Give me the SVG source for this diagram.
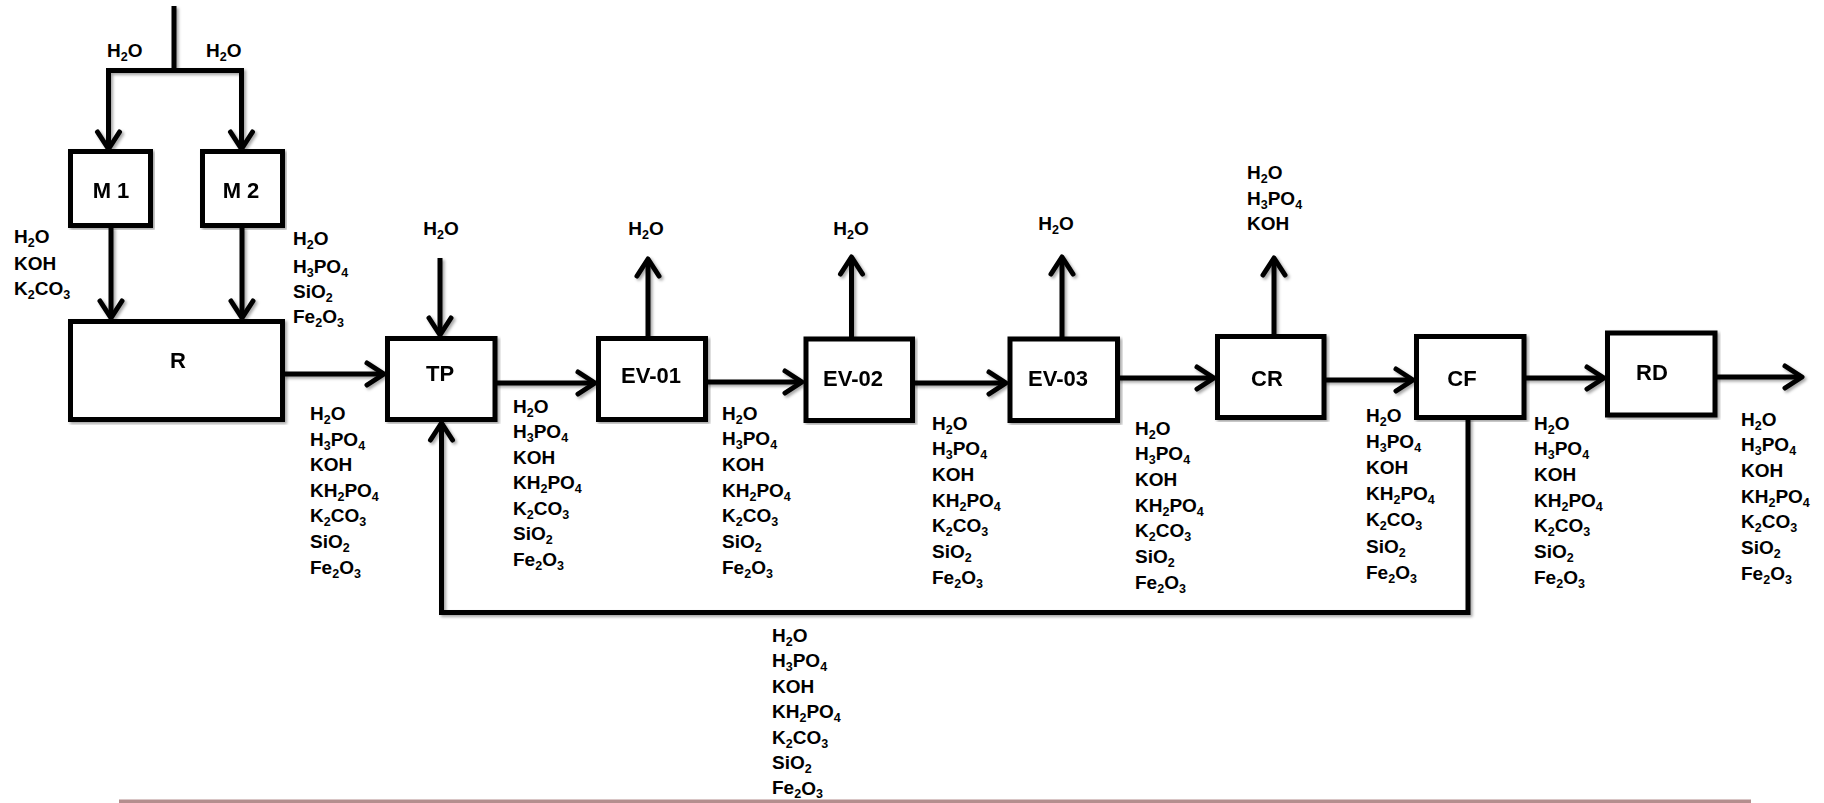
<svg xmlns="http://www.w3.org/2000/svg" width="1824" height="803" viewBox="0 0 1824 803">
<style>
.box{fill:#fff;stroke:#000;stroke-width:5}
.ln{fill:none;stroke:#000;stroke-width:5}
.arr{marker-end:url(#ah)}
.lbl{font-family:"Liberation Sans",Arial,sans-serif;font-weight:bold;font-size:19px;fill:#000}
.nm{font-family:"Liberation Sans",Arial,sans-serif;font-weight:bold;font-size:22px;fill:#000;text-anchor:middle}
.s{font-size:12.5px}
.mid{text-anchor:middle}
</style>
<defs>
<filter id="sh" x="-5%" y="-5%" width="110%" height="110%">
<feDropShadow dx="2" dy="2" stdDeviation="1.5" flood-color="#000" flood-opacity="0.35"/>
</filter>
<marker id="ah" markerUnits="userSpaceOnUse" viewBox="-22 -16 26 32" refX="0" refY="0" markerWidth="26" markerHeight="32" orient="auto">
<path d="M -17 -11 L 0 0 L -17 11" fill="none" stroke="#000" stroke-width="5" stroke-linejoin="round" stroke-linecap="round"/>
</marker>
</defs>
<rect width="1824" height="803" fill="#fff"/>
<rect id="baseline-rule" x="119" y="799.5" width="1632" height="3.5" fill="#b48e8e"/>

<g id="connectors" filter="url(#sh)">
<path class="ln" d="M174 6 V70.5 M106 70.5 H243.5"/>
<path class="ln arr" d="M108.5 68 V149"/>
<path class="ln arr" d="M241.5 68 V149"/>
<path class="ln arr" d="M111 227 V318"/>
<path class="ln arr" d="M242 227 V318"/>
<path class="ln arr" d="M283 374 H384"/>
<path class="ln arr" d="M440 258 V335"/>
<path class="ln arr" d="M1468 418 V612.5 H441.5 V423"/>
<path class="ln arr" d="M495 383 H595"/>
<path class="ln arr" d="M648 337 V259"/>
<path class="ln arr" d="M705.5 382 H802"/>
<path class="ln arr" d="M851.5 337 V257"/>
<path class="ln arr" d="M912.5 383 H1006"/>
<path class="ln arr" d="M1062 337 V257"/>
<path class="ln arr" d="M1117.5 378 H1214"/>
<path class="ln arr" d="M1274 335 V258"/>
<path class="ln arr" d="M1324 380 H1413"/>
<path class="ln arr" d="M1524 378 H1604"/>
<path class="ln arr" d="M1715 377 H1802"/>
</g>

<g id="M1" filter="url(#sh)"><rect class="box" x="70.5" y="151.5" width="80" height="74"/><text class="nm" x="111" y="198">M 1</text></g>
<g id="M2" filter="url(#sh)"><rect class="box" x="202.5" y="151.5" width="80" height="74"/><text class="nm" x="241" y="198">M 2</text></g>
<g id="R" filter="url(#sh)"><rect class="box" x="70.5" y="321.5" width="212" height="98"/><text class="nm" x="178" y="368">R</text></g>
<g id="TP" filter="url(#sh)"><rect class="box" x="387.5" y="338.5" width="107.5" height="81"/><text class="nm" x="440" y="381">TP</text></g>
<g id="EV-01" filter="url(#sh)"><rect class="box" x="598.5" y="338.5" width="107" height="81"/><text class="nm" x="651" y="383">EV-01</text></g>
<g id="EV-02" filter="url(#sh)"><rect class="box" x="806" y="339" width="106.5" height="81.5"/><text class="nm" x="853" y="386">EV-02</text></g>
<g id="EV-03" filter="url(#sh)"><rect class="box" x="1010" y="339" width="107.5" height="81.5"/><text class="nm" x="1058" y="386">EV-03</text></g>
<g id="CR" filter="url(#sh)"><rect class="box" x="1217.5" y="336.5" width="106.5" height="81"/><text class="nm" x="1267" y="386">CR</text></g>
<g id="CF" filter="url(#sh)"><rect class="box" x="1416.5" y="336.5" width="107.5" height="81"/><text class="nm" x="1462" y="386">CF</text></g>
<g id="RD" filter="url(#sh)"><rect class="box" x="1607.5" y="333" width="107.5" height="82"/><text class="nm" x="1652" y="380">RD</text></g>

<g id="labels" class="lbl">
<text x="107" y="57">H<tspan class="s" dy="4">2</tspan><tspan dy="-4">O</tspan></text>
<text x="206" y="57">H<tspan class="s" dy="4">2</tspan><tspan dy="-4">O</tspan></text>

<text x="14" y="243">H<tspan class="s" dy="4">2</tspan><tspan dy="-4">O</tspan></text>
<text x="14" y="270">KOH</text>
<text x="14" y="295">K<tspan class="s" dy="4">2</tspan><tspan dy="-4">CO</tspan><tspan class="s" dy="4">3</tspan></text>

<text x="293" y="245">H<tspan class="s" dy="4">2</tspan><tspan dy="-4">O</tspan></text>
<text x="293" y="273">H<tspan class="s" dy="4">3</tspan><tspan dy="-4">PO</tspan><tspan class="s" dy="4">4</tspan></text>
<text x="293" y="298">SiO<tspan class="s" dy="4">2</tspan></text>
<text x="293" y="323">Fe<tspan class="s" dy="4">2</tspan><tspan dy="-4">O</tspan><tspan class="s" dy="4">3</tspan></text>

<text class="mid" x="441" y="235">H<tspan class="s" dy="4">2</tspan><tspan dy="-4">O</tspan></text>
<text class="mid" x="646" y="235">H<tspan class="s" dy="4">2</tspan><tspan dy="-4">O</tspan></text>
<text class="mid" x="851" y="235">H<tspan class="s" dy="4">2</tspan><tspan dy="-4">O</tspan></text>
<text class="mid" x="1056" y="230">H<tspan class="s" dy="4">2</tspan><tspan dy="-4">O</tspan></text>

<text x="1247" y="179">H<tspan class="s" dy="4">2</tspan><tspan dy="-4">O</tspan></text>
<text x="1247" y="205">H<tspan class="s" dy="4">3</tspan><tspan dy="-4">PO</tspan><tspan class="s" dy="4">4</tspan></text>
<text x="1247" y="230">KOH</text>

<text x="310" y="420">H<tspan class="s" dy="4">2</tspan><tspan dy="-4">O</tspan></text>
<text x="310" y="445.6">H<tspan class="s" dy="4">3</tspan><tspan dy="-4">PO</tspan><tspan class="s" dy="4">4</tspan></text>
<text x="310" y="471.2">KOH</text>
<text x="310" y="496.8">KH<tspan class="s" dy="4">2</tspan><tspan dy="-4">PO</tspan><tspan class="s" dy="4">4</tspan></text>
<text x="310" y="522.4">K<tspan class="s" dy="4">2</tspan><tspan dy="-4">CO</tspan><tspan class="s" dy="4">3</tspan></text>
<text x="310" y="548">SiO<tspan class="s" dy="4">2</tspan></text>
<text x="310" y="573.6">Fe<tspan class="s" dy="4">2</tspan><tspan dy="-4">O</tspan><tspan class="s" dy="4">3</tspan></text>

<text x="513" y="412.5">H<tspan class="s" dy="4">2</tspan><tspan dy="-4">O</tspan></text>
<text x="513" y="438">H<tspan class="s" dy="4">3</tspan><tspan dy="-4">PO</tspan><tspan class="s" dy="4">4</tspan></text>
<text x="513" y="463.5">KOH</text>
<text x="513" y="489">KH<tspan class="s" dy="4">2</tspan><tspan dy="-4">PO</tspan><tspan class="s" dy="4">4</tspan></text>
<text x="513" y="514.5">K<tspan class="s" dy="4">2</tspan><tspan dy="-4">CO</tspan><tspan class="s" dy="4">3</tspan></text>
<text x="513" y="540">SiO<tspan class="s" dy="4">2</tspan></text>
<text x="513" y="565.5">Fe<tspan class="s" dy="4">2</tspan><tspan dy="-4">O</tspan><tspan class="s" dy="4">3</tspan></text>

<text x="722" y="419.5">H<tspan class="s" dy="4">2</tspan><tspan dy="-4">O</tspan></text>
<text x="722" y="445.2">H<tspan class="s" dy="4">3</tspan><tspan dy="-4">PO</tspan><tspan class="s" dy="4">4</tspan></text>
<text x="722" y="470.9">KOH</text>
<text x="722" y="496.6">KH<tspan class="s" dy="4">2</tspan><tspan dy="-4">PO</tspan><tspan class="s" dy="4">4</tspan></text>
<text x="722" y="522.3">K<tspan class="s" dy="4">2</tspan><tspan dy="-4">CO</tspan><tspan class="s" dy="4">3</tspan></text>
<text x="722" y="548">SiO<tspan class="s" dy="4">2</tspan></text>
<text x="722" y="573.7">Fe<tspan class="s" dy="4">2</tspan><tspan dy="-4">O</tspan><tspan class="s" dy="4">3</tspan></text>

<text x="932" y="429.5">H<tspan class="s" dy="4">2</tspan><tspan dy="-4">O</tspan></text>
<text x="932" y="455.2">H<tspan class="s" dy="4">3</tspan><tspan dy="-4">PO</tspan><tspan class="s" dy="4">4</tspan></text>
<text x="932" y="480.9">KOH</text>
<text x="932" y="506.6">KH<tspan class="s" dy="4">2</tspan><tspan dy="-4">PO</tspan><tspan class="s" dy="4">4</tspan></text>
<text x="932" y="532.3">K<tspan class="s" dy="4">2</tspan><tspan dy="-4">CO</tspan><tspan class="s" dy="4">3</tspan></text>
<text x="932" y="558">SiO<tspan class="s" dy="4">2</tspan></text>
<text x="932" y="583.7">Fe<tspan class="s" dy="4">2</tspan><tspan dy="-4">O</tspan><tspan class="s" dy="4">3</tspan></text>

<text x="1135" y="434.5">H<tspan class="s" dy="4">2</tspan><tspan dy="-4">O</tspan></text>
<text x="1135" y="460.2">H<tspan class="s" dy="4">3</tspan><tspan dy="-4">PO</tspan><tspan class="s" dy="4">4</tspan></text>
<text x="1135" y="485.9">KOH</text>
<text x="1135" y="511.6">KH<tspan class="s" dy="4">2</tspan><tspan dy="-4">PO</tspan><tspan class="s" dy="4">4</tspan></text>
<text x="1135" y="537.3">K<tspan class="s" dy="4">2</tspan><tspan dy="-4">CO</tspan><tspan class="s" dy="4">3</tspan></text>
<text x="1135" y="563">SiO<tspan class="s" dy="4">2</tspan></text>
<text x="1135" y="588.7">Fe<tspan class="s" dy="4">2</tspan><tspan dy="-4">O</tspan><tspan class="s" dy="4">3</tspan></text>

<text x="1366" y="421.5">H<tspan class="s" dy="4">2</tspan><tspan dy="-4">O</tspan></text>
<text x="1366" y="447.7">H<tspan class="s" dy="4">3</tspan><tspan dy="-4">PO</tspan><tspan class="s" dy="4">4</tspan></text>
<text x="1366" y="473.9">KOH</text>
<text x="1366" y="500.1">KH<tspan class="s" dy="4">2</tspan><tspan dy="-4">PO</tspan><tspan class="s" dy="4">4</tspan></text>
<text x="1366" y="526.3">K<tspan class="s" dy="4">2</tspan><tspan dy="-4">CO</tspan><tspan class="s" dy="4">3</tspan></text>
<text x="1366" y="552.5">SiO<tspan class="s" dy="4">2</tspan></text>
<text x="1366" y="578.7">Fe<tspan class="s" dy="4">2</tspan><tspan dy="-4">O</tspan><tspan class="s" dy="4">3</tspan></text>

<text x="1534" y="429.5">H<tspan class="s" dy="4">2</tspan><tspan dy="-4">O</tspan></text>
<text x="1534" y="455.2">H<tspan class="s" dy="4">3</tspan><tspan dy="-4">PO</tspan><tspan class="s" dy="4">4</tspan></text>
<text x="1534" y="480.9">KOH</text>
<text x="1534" y="506.6">KH<tspan class="s" dy="4">2</tspan><tspan dy="-4">PO</tspan><tspan class="s" dy="4">4</tspan></text>
<text x="1534" y="532.3">K<tspan class="s" dy="4">2</tspan><tspan dy="-4">CO</tspan><tspan class="s" dy="4">3</tspan></text>
<text x="1534" y="558">SiO<tspan class="s" dy="4">2</tspan></text>
<text x="1534" y="583.7">Fe<tspan class="s" dy="4">2</tspan><tspan dy="-4">O</tspan><tspan class="s" dy="4">3</tspan></text>

<text x="1741" y="425.5">H<tspan class="s" dy="4">2</tspan><tspan dy="-4">O</tspan></text>
<text x="1741" y="451.2">H<tspan class="s" dy="4">3</tspan><tspan dy="-4">PO</tspan><tspan class="s" dy="4">4</tspan></text>
<text x="1741" y="476.9">KOH</text>
<text x="1741" y="502.6">KH<tspan class="s" dy="4">2</tspan><tspan dy="-4">PO</tspan><tspan class="s" dy="4">4</tspan></text>
<text x="1741" y="528.3">K<tspan class="s" dy="4">2</tspan><tspan dy="-4">CO</tspan><tspan class="s" dy="4">3</tspan></text>
<text x="1741" y="554">SiO<tspan class="s" dy="4">2</tspan></text>
<text x="1741" y="579.7">Fe<tspan class="s" dy="4">2</tspan><tspan dy="-4">O</tspan><tspan class="s" dy="4">3</tspan></text>

<text x="772" y="641.5">H<tspan class="s" dy="4">2</tspan><tspan dy="-4">O</tspan></text>
<text x="772" y="667">H<tspan class="s" dy="4">3</tspan><tspan dy="-4">PO</tspan><tspan class="s" dy="4">4</tspan></text>
<text x="772" y="692.5">KOH</text>
<text x="772" y="718">KH<tspan class="s" dy="4">2</tspan><tspan dy="-4">PO</tspan><tspan class="s" dy="4">4</tspan></text>
<text x="772" y="743.5">K<tspan class="s" dy="4">2</tspan><tspan dy="-4">CO</tspan><tspan class="s" dy="4">3</tspan></text>
<text x="772" y="769">SiO<tspan class="s" dy="4">2</tspan></text>
<text x="772" y="794">Fe<tspan class="s" dy="4">2</tspan><tspan dy="-3">O</tspan><tspan class="s" dy="3">3</tspan></text>
</g>
</svg>
